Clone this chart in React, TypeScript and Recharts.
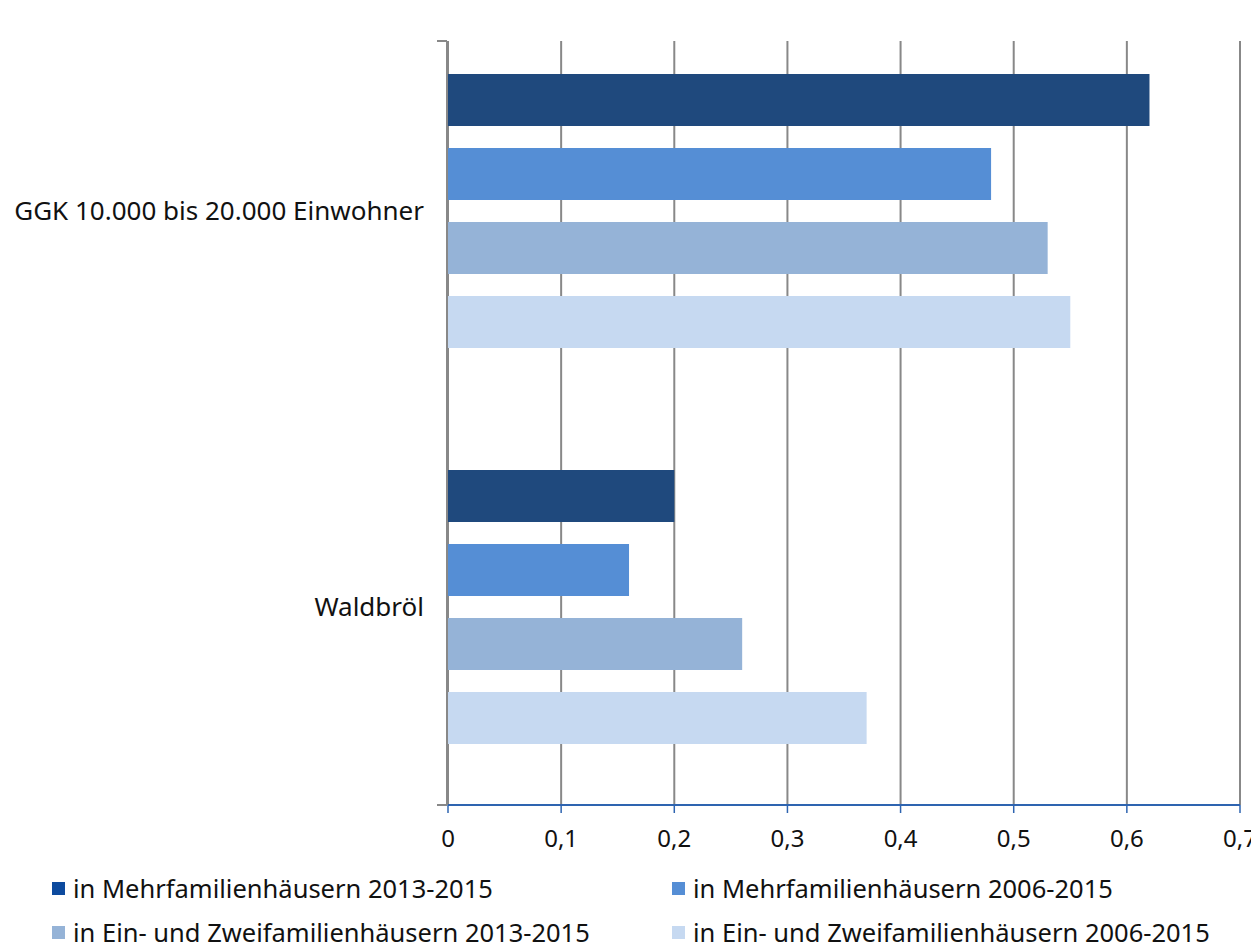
import { BarChart, Bar, XAxis, YAxis, CartesianGrid } from "recharts";

const categories = ["GGK 10.000 bis 20.000 Einwohner", "Waldbröl"];
const mehr2013 = [0.62, 0.2];
const mehr2006 = [0.48, 0.16];
const einZwei2013 = [0.53, 0.26];
const einZwei2006 = [0.55, 0.37];
const xTicks = [0, 0.1, 0.2, 0.3, 0.4, 0.5, 0.6, 0.7];

const series = [
	{ key: "mehr2013", name: "in Mehrfamilienhäusern 2013-2015", fill: "#1F497D", marker: "#0D4A9E" },
	{ key: "mehr2006", name: "in Mehrfamilienhäusern 2006-2015", fill: "#558ED5", marker: "#558ED5" },
	{ key: "einZwei2013", name: "in Ein- und Zweifamilienhäusern 2013-2015", fill: "#95B3D7", marker: "#95B3D7" },
	{ key: "einZwei2006", name: "in Ein- und Zweifamilienhäusern 2006-2015", fill: "#C6D9F1", marker: "#C6D9F1" },
];

const data = categories.map((name, i) => ({
	name,
	mehr2013: mehr2013[i],
	mehr2006: mehr2006[i],
	einZwei2013: einZwei2013[i],
	einZwei2006: einZwei2006[i],
}));

const FONT = "'Noto Sans', sans-serif";

const CategoryTick = ({ x, y, payload }: any) => (
	<text
		x={x - 16}
		y={y}
		dy={9}
		textAnchor="end"
		fontSize={26}
		fontFamily={FONT}
		fill="#111"
	>
		{payload.value}
	</text>
);

export default function App() {
	return (
		<div style={{ width: 1251, fontFamily: FONT }}>
			<BarChart
				width={1251}
				height={847}
				data={data}
				layout="vertical"
				margin={{ top: 33, right: 19, left: 438, bottom: 0 }}
				barSize={52}
				barGap={22}
			>
				<CartesianGrid horizontal={false} stroke="#888" strokeWidth={2} />
				<XAxis
					type="number"
					domain={[0, 0.7]}
					ticks={xTicks}
					tickFormatter={(v) => String(v).replace(".", ",")}
					axisLine={{ stroke: "#2E64B0", strokeWidth: 2 }}
					tickLine={{ stroke: "#2E64B0", strokeWidth: 1.5 }}
					tickSize={8}
					tickMargin={17}
					height={50}
					tick={{ fontSize: 24, fill: "#111", fontFamily: FONT }}
				/>
				<YAxis
					yAxisId="cat"
					type="category"
					dataKey="name"
					width={1}
					padding={{ top: -28, bottom: 0 }}
					axisLine={false}
					tickLine={false}
					tick={<CategoryTick />}
				/>
				<YAxis
					yAxisId="marks"
					type="number"
					domain={[0, 2]}
					ticks={[0, 1, 2]}
					width={1}
					axisLine={{ stroke: "#888", strokeWidth: 2 }}
					tickLine={{ stroke: "#888", strokeWidth: 2 }}
					tickSize={10}
					tickFormatter={() => ""}
					tick={{ fontSize: 1, fill: "none" }}
				/>
				{series.map((s) => (
					<Bar
						key={s.key}
						yAxisId="cat"
						dataKey={s.key}
						name={s.name}
						fill={s.fill}
						isAnimationActive={false}
					/>
				))}
			</BarChart>
			<div
				style={{
					display: "grid",
					gridTemplateColumns: "620px 560px",
					rowGap: 15,
					paddingLeft: 44,
					marginTop: 19,
					fontSize: 25.5,
					lineHeight: "29px",
					color: "#111",
				}}
			>
				{series.map((s) => (
					<div key={s.key} style={{ display: "flex", alignItems: "center", height: 29 }}>
						<span style={{ width: 13, height: 13, background: s.marker, marginRight: 8, display: "inline-block" }} />
						<span>{s.name}</span>
					</div>
				))}
			</div>
		</div>
	);
}
